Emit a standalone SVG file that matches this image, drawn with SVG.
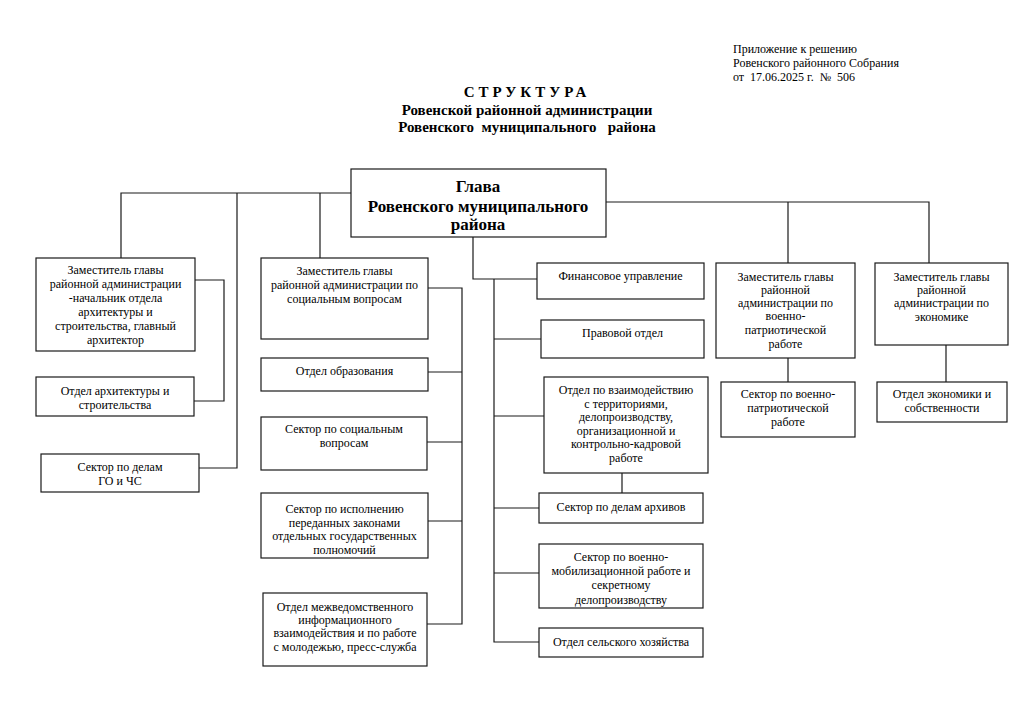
<svg xmlns="http://www.w3.org/2000/svg" width="1023" height="724" viewBox="0 0 1023 724">
<style>
  .bx { fill: #ffffff; stroke: #1a1a1a; stroke-width: 1.2; }
  .ln { fill: none; stroke: #1a1a1a; stroke-width: 1.2; }
  text { font-family: "Liberation Serif", "Times New Roman", serif; fill: #000; }
  .t { font-size: 12px; text-anchor: middle; }
  .h { font-size: 15px; font-weight: bold; text-anchor: middle; }
  .m { font-size: 17px; font-weight: bold; text-anchor: middle; }
  .a { font-size: 12px; }
</style>
<rect width="1023" height="724" fill="#ffffff"/>

<g id="annex">
  <text class="a" x="733" y="53">Приложение к решению</text>
  <text class="a" x="733" y="67">Ровенского районного Собрания</text>
  <text class="a" x="733" y="81" xml:space="preserve">от  17.06.2025 г.  №  506</text>
</g>

<g id="title">
  <text class="h" x="527" y="97" letter-spacing="4">СТРУКТУРА</text>
  <text class="h" x="527" y="115">Ровенской районной администрации</text>
  <text class="h" x="527" y="132" xml:space="preserve">Ровенского  муниципального   района</text>
</g>

<g id="connectors">
  <polyline class="ln" points="351,193 121,193 121,258"/>
  <polyline class="ln" points="237,193 237,468 199,468"/>
  <line class="ln" x1="320" y1="193" x2="320" y2="258"/>
  <polyline class="ln" points="195,280 224,280 224,401 194,401"/>
  <polyline class="ln" points="428,288 462,288 462,624 427,624"/>
  <line class="ln" x1="428" y1="372" x2="462" y2="372"/>
  <line class="ln" x1="427" y1="442" x2="462" y2="442"/>
  <line class="ln" x1="428" y1="521" x2="462" y2="521"/>
  <polyline class="ln" points="473,237 473,279 537,279"/>
  <polyline class="ln" points="494,279 494,642 539,642"/>
  <line class="ln" x1="494" y1="339" x2="541" y2="339"/>
  <line class="ln" x1="494" y1="416" x2="544" y2="416"/>
  <line class="ln" x1="494" y1="508" x2="539" y2="508"/>
  <line class="ln" x1="494" y1="573" x2="539" y2="573"/>
  <line class="ln" x1="622" y1="473" x2="622" y2="493"/>
  <polyline class="ln" points="606,202 929,202 929,263"/>
  <line class="ln" x1="788" y1="202" x2="788" y2="263"/>
  <line class="ln" x1="788" y1="358" x2="788" y2="382"/>
  <line class="ln" x1="946" y1="345" x2="946" y2="382"/>
</g>

<g id="head">
  <rect class="bx" x="351" y="169" width="255" height="68"/>
  <text class="m" x="478" y="192">Глава</text>
  <text class="m" x="478" y="212">Ровенского муниципального</text>
  <text class="m" x="478" y="230">района</text>
</g>

<g id="deputy-arch">
  <rect class="bx" x="36" y="258" width="159" height="93"/>
  <text class="t" x="115.5" y="274">Заместитель главы</text>
  <text class="t" x="115.5" y="288">районной администрации</text>
  <text class="t" x="115.5" y="302">-начальник отдела</text>
  <text class="t" x="115.5" y="316">архитектуры и</text>
  <text class="t" x="115.5" y="330">строительства, главный</text>
  <text class="t" x="115.5" y="344">архитектор</text>
</g>

<g id="dept-arch">
  <rect class="bx" x="36" y="377" width="158" height="39"/>
  <text class="t" x="115" y="395">Отдел архитектуры и</text>
  <text class="t" x="115" y="409">строительства</text>
</g>

<g id="sector-go">
  <rect class="bx" x="41" y="454" width="158" height="38"/>
  <text class="t" x="120" y="471">Сектор по делам</text>
  <text class="t" x="120" y="485">ГО и ЧС</text>
</g>

<g id="deputy-social">
  <rect class="bx" x="261" y="258" width="167" height="81"/>
  <text class="t" x="344.5" y="275">Заместитель главы</text>
  <text class="t" x="344.5" y="289">районной администрации по</text>
  <text class="t" x="344.5" y="303">социальным вопросам</text>
</g>

<g id="dept-edu">
  <rect class="bx" x="261" y="358" width="167" height="33"/>
  <text class="t" x="344.5" y="375">Отдел образования</text>
</g>

<g id="sector-social">
  <rect class="bx" x="261" y="417" width="166" height="53"/>
  <text class="t" x="344" y="433">Сектор по социальным</text>
  <text class="t" x="344" y="447">вопросам</text>
</g>

<g id="sector-powers">
  <rect class="bx" x="261" y="493" width="167" height="65"/>
  <text class="t" x="344.5" y="513">Сектор по исполнению</text>
  <text class="t" x="344.5" y="527">переданных законами</text>
  <text class="t" x="344.5" y="540">отдельных государственных</text>
  <text class="t" x="344.5" y="554">полномочий</text>
</g>

<g id="dept-info">
  <rect class="bx" x="263" y="593" width="164" height="73"/>
  <text class="t" x="345" y="611">Отдел межведомственного</text>
  <text class="t" x="345" y="624">информационного</text>
  <text class="t" x="345" y="637">взаимодействия и по работе</text>
  <text class="t" x="345" y="651">с молодежью, пресс-служба</text>
</g>

<g id="finance">
  <rect class="bx" x="537" y="263" width="167" height="36"/>
  <text class="t" x="620.5" y="280">Финансовое управление</text>
</g>

<g id="legal">
  <rect class="bx" x="541" y="320" width="163" height="38"/>
  <text class="t" x="622.5" y="337">Правовой отдел</text>
</g>

<g id="dept-territories">
  <rect class="bx" x="544" y="377" width="164" height="96"/>
  <text class="t" x="626" y="394">Отдел по взаимодействию</text>
  <text class="t" x="626" y="408">с территориями,</text>
  <text class="t" x="626" y="421">делопроизводству,</text>
  <text class="t" x="626" y="435">организационной и</text>
  <text class="t" x="626" y="448">контрольно-кадровой</text>
  <text class="t" x="626" y="462">работе</text>
</g>

<g id="sector-archive">
  <rect class="bx" x="539" y="493" width="164" height="30"/>
  <text class="t" x="621" y="511">Сектор по делам архивов</text>
</g>

<g id="sector-mob">
  <rect class="bx" x="539" y="544" width="164" height="64"/>
  <text class="t" x="621" y="561">Сектор по военно-</text>
  <text class="t" x="621" y="575">мобилизационной работе и</text>
  <text class="t" x="621" y="589">секретному</text>
  <text class="t" x="621" y="604">делопроизводству</text>
</g>

<g id="dept-agri">
  <rect class="bx" x="539" y="628" width="164" height="29"/>
  <text class="t" x="621" y="646">Отдел сельского хозяйства</text>
</g>

<g id="deputy-military">
  <rect class="bx" x="716" y="263" width="139" height="95"/>
  <text class="t" x="785.5" y="281">Заместитель главы</text>
  <text class="t" x="785.5" y="294">районной</text>
  <text class="t" x="785.5" y="307">администрации по</text>
  <text class="t" x="785.5" y="320">военно-</text>
  <text class="t" x="785.5" y="334">патриотической</text>
  <text class="t" x="785.5" y="348">работе</text>
</g>

<g id="sector-military">
  <rect class="bx" x="721" y="382" width="134" height="55"/>
  <text class="t" x="788" y="398">Сектор по военно-</text>
  <text class="t" x="788" y="412">патриотической</text>
  <text class="t" x="788" y="426">работе</text>
</g>

<g id="deputy-economy">
  <rect class="bx" x="875" y="263" width="133" height="82"/>
  <text class="t" x="941.5" y="281">Заместитель главы</text>
  <text class="t" x="941.5" y="294">районной</text>
  <text class="t" x="941.5" y="307">администрации по</text>
  <text class="t" x="941.5" y="321">экономике</text>
</g>

<g id="dept-economy">
  <rect class="bx" x="877" y="382" width="130" height="40"/>
  <text class="t" x="942" y="398">Отдел экономики и</text>
  <text class="t" x="942" y="412">собственности</text>
</g>
</svg>
